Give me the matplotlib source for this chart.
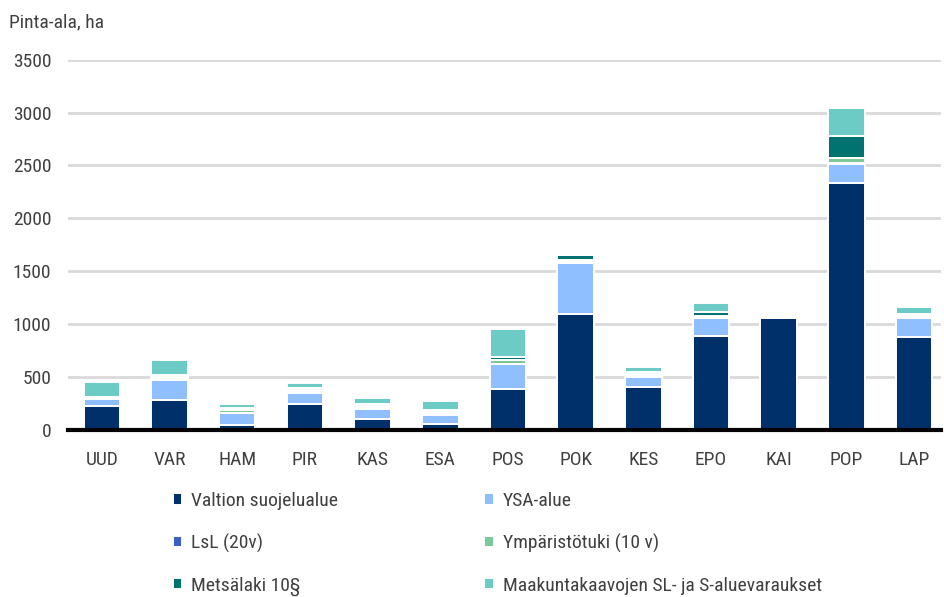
import matplotlib
matplotlib.use('Agg')
import matplotlib.pyplot as plt
import numpy as np

plt.rcParams['font.family'] = ['Roboto Condensed', 'Liberation Sans', 'DejaVu Sans']

regions = ['UUD', 'VAR', 'HAM', 'PIR', 'KAS', 'ESA', 'POS', 'POK', 'KES', 'EPO', 'KAI', 'POP', 'LAP']
valtion = [225, 285, 45, 245, 105, 55, 385, 1095, 405, 890, 1060, 2330, 880]
ysa = [70, 185, 110, 105, 95, 90, 235, 480, 95, 165, 0, 180, 175]
lsl = [0, 10, 5, 5, 5, 5, 5, 10, 5, 5, 0, 10, 5]
ymp = [10, 20, 25, 20, 20, 20, 35, 25, 20, 20, 0, 50, 20]
metsa = [10, 20, 25, 25, 20, 20, 25, 45, 20, 35, 0, 210, 20]
maak = [135, 145, 35, 40, 55, 80, 265, 0, 45, 85, 0, 260, 65]

series = [
    ('Valtion suojelualue', valtion, '#003069'),
    ('YSA-alue', ysa, '#8fbfff'),
    ('LsL (20v)', lsl, '#3a5fc8'),
    ('Ympäristötuki (10 v)', ymp, '#7dc89a'),
    ('Metsälaki 10§', metsa, '#007370'),
    ('Maakuntakaavojen SL- ja S-aluevaraukset', maak, '#6ccbc4'),
]

fig = plt.figure(figsize=(9.44, 5.97), dpi=100)
ax = fig.add_axes([0.072, 0.28, 0.925, 0.62])

x = np.arange(len(regions))
bottom = np.zeros(len(regions))
handles = []
for name, vals, col in series:
    b = ax.bar(x, vals, 0.54, bottom=bottom, color=col, edgecolor='white',
               linewidth=1.4, label=name, zorder=3)
    handles.append(b)
    bottom += np.array(vals)

ax.set_ylim(0, 3500)
ax.set_xlim(-0.5, 12.4)
ax.set_yticks(range(0, 3501, 500))
ax.set_xticks(x)
ax.set_xticklabels(regions)
ax.yaxis.grid(True, color='#d9d9d9', linewidth=2, zorder=0)
ax.set_axisbelow(True)
for s in ['top', 'right', 'left']:
    ax.spines[s].set_visible(False)
ax.spines['bottom'].set_linewidth(3)
ax.spines['bottom'].set_color('black')
ax.spines['bottom'].set_zorder(4)
ax.tick_params(axis='both', length=0, labelsize=14, colors='#404040')
ax.tick_params(axis='x', pad=15)
ax.tick_params(axis='y', pad=12)

fig.text(0.01, 0.962, 'Pinta-ala, ha', fontsize=14, color='#404040', va='center')

legend_kw = dict(loc='upper left', frameon=False, fontsize=14, handlelength=0.5,
                 handleheight=0.5, handletextpad=0.45, labelspacing=1.22,
                 labelcolor='#404040', borderaxespad=0, borderpad=0)
leg1 = fig.legend([handles[0], handles[2], handles[4]],
                  [series[0][0], series[2][0], series[4][0]],
                  bbox_to_anchor=(0.183, 0.176), **legend_kw)
leg2 = fig.legend([handles[1], handles[3], handles[5]],
                  [series[1][0], series[3][0], series[5][0]],
                  bbox_to_anchor=(0.513, 0.176), **legend_kw)

fig.savefig('out.png', dpi=100)
